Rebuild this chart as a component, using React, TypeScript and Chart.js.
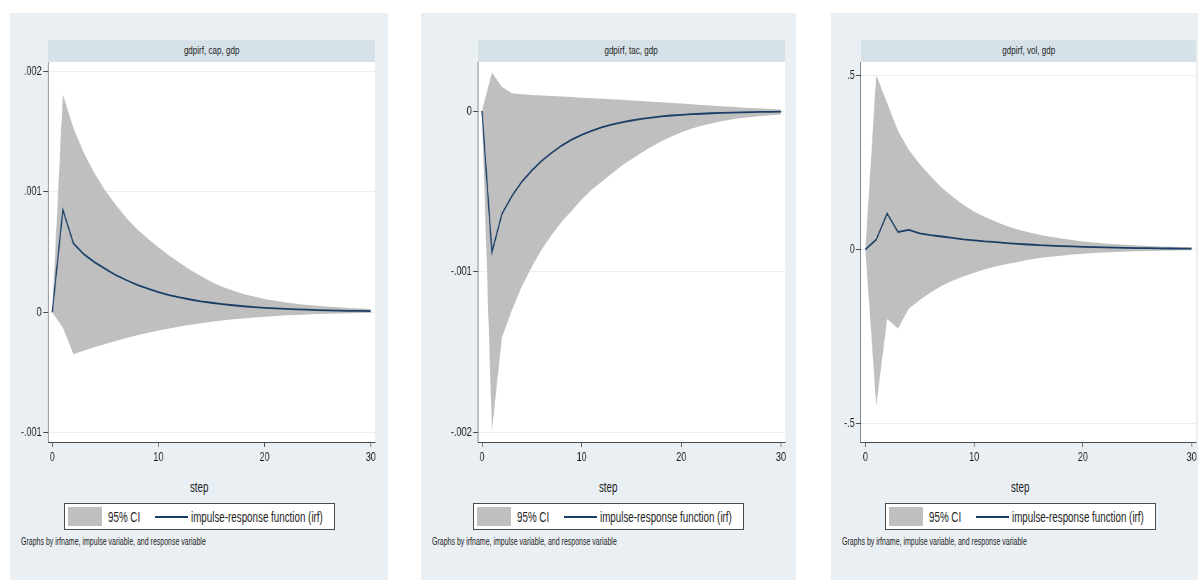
import React, { useEffect, useRef } from 'react';
import { Chart, registerables } from 'chart.js';

Chart.register(...registerables);

// ---------------- data ----------------
const steps = [0, 1, 2, 3, 4, 5, 6, 7, 8, 9, 10, 11, 12, 13, 14, 15, 16, 17, 18, 19, 20, 21, 22, 23, 24, 25, 26, 27, 28, 29, 30];

const capIrf = [0, 0.00085, 0.00057, 0.00048, 0.000414, 0.00036, 0.000307, 0.000265, 0.000227, 0.000195, 0.000166, 0.000142, 0.000122, 0.000105, 0.00009, 0.000078, 0.000067, 0.000057, 0.000049, 0.000042, 0.000036, 0.000031, 0.000027, 0.000023, 0.00002, 0.000017, 0.000015, 0.000013, 0.000011, 0.00001, 0.000009];
const capUpper = [0, 0.00181, 0.00153, 0.00132, 0.00115, 0.00101, 0.00089, 0.00078, 0.00069, 0.00061, 0.00054, 0.00047, 0.00041, 0.00035, 0.0003, 0.00025, 0.00021, 0.00018, 0.00015, 0.00013, 0.00011, 0.000095, 0.00008, 0.00007, 0.00006, 0.000052, 0.000045, 0.00004, 0.000035, 0.00003, 0.000027];
const capLower = [0, -0.00013, -0.00035, -0.00032, -0.00029, -0.000265, -0.00024, -0.000215, -0.000192, -0.000172, -0.000153, -0.000136, -0.00012, -0.000106, -0.000093, -0.000081, -0.00007, -0.00006, -0.000052, -0.000045, -0.000038, -0.000032, -0.000027, -0.000023, -0.000019, -0.000016, -0.000013, -0.000011, -0.000009, -0.000007, -0.000006];

const tacIrf = [0, -0.00088, -0.00064, -0.00053, -0.00044, -0.00037, -0.00031, -0.00026, -0.000215, -0.000178, -0.000148, -0.000123, -0.000102, -0.000085, -0.000071, -0.000059, -0.000049, -0.000041, -0.000034, -0.000028, -0.000024, -0.00002, -0.000017, -0.000014, -0.000012, -0.00001, -0.000008, -0.000007, -0.000006, -0.000005, -0.000004];
const tacUpper = [0, 0.00024, 0.00015, 0.00011, 0.000105, 0.0001, 0.000097, 0.000093, 0.00009, 0.000087, 0.000083, 0.00008, 0.000077, 0.000073, 0.00007, 0.000066, 0.000062, 0.000058, 0.000054, 0.00005, 0.000046, 0.000042, 0.000038, 0.000034, 0.00003, 0.000026, 0.000022, 0.000019, 0.000016, 0.000013, 0.00001];
const tacLower = [0, -0.00199, -0.00141, -0.00124, -0.00109, -0.00097, -0.00086, -0.00077, -0.00069, -0.00062, -0.00055, -0.00049, -0.00044, -0.00039, -0.00034, -0.0003, -0.00026, -0.000222, -0.000188, -0.000158, -0.000132, -0.00011, -0.000092, -0.000077, -0.000064, -0.000053, -0.000044, -0.000037, -0.000031, -0.000026, -0.000022];

const volIrf = [0, 0.028, 0.103, 0.05, 0.056, 0.046, 0.041, 0.037, 0.033, 0.029, 0.026, 0.023, 0.021, 0.018, 0.016, 0.014, 0.012, 0.011, 0.0095, 0.0085, 0.0075, 0.0066, 0.0058, 0.005, 0.0044, 0.0039, 0.0034, 0.003, 0.0026, 0.0023, 0.002];
const volUpper = [0, 0.5, 0.42, 0.34, 0.285, 0.245, 0.21, 0.178, 0.152, 0.128, 0.108, 0.093, 0.079, 0.067, 0.057, 0.049, 0.042, 0.036, 0.031, 0.027, 0.023, 0.02, 0.017, 0.015, 0.013, 0.011, 0.0095, 0.0085, 0.0075, 0.0065, 0.006];
const volLower = [0, -0.45, -0.2, -0.227, -0.17, -0.145, -0.124, -0.105, -0.09, -0.078, -0.067, -0.057, -0.049, -0.042, -0.036, -0.03, -0.025, -0.021, -0.018, -0.015, -0.0125, -0.0105, -0.0088, -0.0074, -0.0062, -0.0052, -0.0044, -0.0037, -0.0031, -0.0026, -0.0022];

const xTickValues = [0, 10, 20, 30];
const xTickLabels = ['0', '10', '20', '30'];
const capYTicks = [-0.001, 0, 0.001, 0.002];
const capYLabels = ['-.001', '0', '.001', '.002'];
const tacYTicks = [-0.002, -0.001, 0];
const tacYLabels = ['-.002', '-.001', '0'];
const volYTicks = [-0.5, 0, 0.5];
const volYLabels = ['-.5', '0', '.5'];

const panelTitles = ['gdpirf, cap, gdp', 'gdpirf, tac, gdp', 'gdpirf, vol, gdp'];
const xAxisTitle = 'step';
const legendCI = '95% CI';
const legendIrf = 'impulse-response function (irf)';
const noteText = 'Graphs by irfname, impulse variable, and response variable';

// ---------------- layout / style ----------------
const SQ = 0.7; // horizontal condensing of the reference typography
const FONT = "'Liberation Sans', Arial, Helvetica, sans-serif";
const PLOT_TOP = 62;
const PLOT_H = 380;
const AXIS_H = 30;
const OUTER_BG = '#e9eff2';
const STRIP_BG = '#d6e1e8';
const BAND = '#bfbfbf';
const LINE = '#1a3f66';
const AXIS = '#4a4a4a';
const TEXT = '#1e1e1e';

type PanelCfg = {
  left: number; width: number; plotLeft: number; plotRight: number;
  yMin: number; yMax: number; yTicks: number[]; yLabels: string[];
  irf: number[]; upper: number[]; lower: number[]; title: string;
};

const panels: PanelCfg[] = [
  { left: 10, width: 378, plotLeft: 48, plotRight: 375, yMin: -0.00108, yMax: 0.00208, yTicks: capYTicks, yLabels: capYLabels, irf: capIrf, upper: capUpper, lower: capLower, title: panelTitles[0] },
  { left: 421, width: 375, plotLeft: 478, plotRight: 785, yMin: -0.00206, yMax: 0.000305, yTicks: tacYTicks, yLabels: tacYLabels, irf: tacIrf, upper: tacUpper, lower: tacLower, title: panelTitles[1] },
  { left: 831, width: 378, plotLeft: 861, plotRight: 1196, yMin: -0.553, yMax: 0.538, yTicks: volYTicks, yLabels: volYLabels, irf: volIrf, upper: volUpper, lower: volLower, title: panelTitles[2] },
];

const plotBg = {
  id: 'plotBg',
  beforeDraw(chart: any) {
    const { ctx, chartArea } = chart;
    if (!chartArea) return;
    ctx.save();
    ctx.fillStyle = '#ffffff';
    ctx.fillRect(chartArea.left, chartArea.top, chartArea.right - chartArea.left, chartArea.bottom - chartArea.top);
    ctx.restore();
  },
};

function SqText({ text, size, origin = 'center' }: { text: string; size: number; origin?: string }) {
  return (
    <span style={{ display: 'inline-block', transform: `scaleX(${SQ})`, transformOrigin: origin, fontSize: size, fontFamily: FONT, whiteSpace: 'nowrap', lineHeight: 1, color: TEXT }}>
      {text}
    </span>
  );
}

function Panel({ p }: { p: PanelCfg }) {
  const ref = useRef<HTMLCanvasElement | null>(null);
  const cw = Math.round(p.width / SQ);
  const ch = PLOT_H + AXIS_H;

  useEffect(() => {
    const canvas = ref.current;
    if (!canvas) return;
    const yAxisW = (p.plotLeft - p.left) / SQ;
    const padR = (p.left + p.width - p.plotRight) / SQ;
    const toXY = (arr: number[]) => steps.map((s, i) => ({ x: s, y: arr[i] }));
    const chart = new Chart(canvas, {
      type: 'line',
      data: {
        datasets: [
          { label: 'irf', data: toXY(p.irf), borderColor: LINE, borderWidth: 1.8, pointRadius: 0, fill: false, tension: 0 },
          { label: 'upper', data: toXY(p.upper), borderColor: 'rgba(0,0,0,0)', borderWidth: 0, backgroundColor: BAND, pointRadius: 0, fill: '+1', tension: 0 },
          { label: 'lower', data: toXY(p.lower), borderColor: 'rgba(0,0,0,0)', borderWidth: 0, backgroundColor: BAND, pointRadius: 0, fill: false, tension: 0 },
        ],
      },
      options: {
        responsive: false,
        animation: false,
        devicePixelRatio: 1,
        layout: { padding: { left: 0, top: 0, bottom: 0, right: padR } },
        plugins: { legend: { display: false }, tooltip: { enabled: false } },
        scales: {
          x: {
            type: 'linear', min: -0.4, max: 30.4,
            afterFit: (s: any) => { s.height = AXIS_H; s.paddingLeft = 0; s.paddingRight = 0; s.paddingTop = 0; s.paddingBottom = 0; },
            afterBuildTicks: (s: any) => { s.ticks = xTickValues.map((v) => ({ value: v })); },
            ticks: {
              callback: (v: any) => { const i = xTickValues.indexOf(Number(v)); return i >= 0 ? xTickLabels[i] : ''; },
              font: { family: FONT, size: 13 }, color: TEXT, padding: 3, maxRotation: 0, autoSkip: false,
            },
            grid: { drawOnChartArea: false, drawTicks: true, tickLength: 5, tickColor: AXIS, lineWidth: 1 },
            border: { display: true, color: AXIS, width: 1 },
          },
          y: {
            type: 'linear', min: p.yMin, max: p.yMax,
            afterFit: (s: any) => { s.width = yAxisW; s.paddingLeft = 0; s.paddingRight = 0; s.paddingTop = 0; s.paddingBottom = 0; },
            afterBuildTicks: (s: any) => { s.ticks = p.yTicks.map((v) => ({ value: v })); },
            ticks: {
              callback: (v: any) => { const i = p.yTicks.indexOf(Number(v)); return i >= 0 ? p.yLabels[i] : ''; },
              font: { family: FONT, size: 13 }, color: TEXT, padding: 2, autoSkip: false,
            },
            grid: { drawOnChartArea: true, color: '#e6eff1', lineWidth: 1, drawTicks: true, tickLength: 7, tickColor: AXIS },
            border: { display: true, color: AXIS, width: 1 },
          },
        },
      },
      plugins: [plotBg],
    } as any);
    return () => chart.destroy();
  }, []);

  const legendW = 271;
  const legendLeft = p.left + (p.width - legendW) / 2;

  return (
    <>
      <div style={{ position: 'absolute', left: p.left, top: 13, width: p.width, height: 567, background: OUTER_BG }} />
      <div style={{ position: 'absolute', left: p.plotLeft, top: 40, width: p.plotRight - p.plotLeft, height: 22, background: STRIP_BG, display: 'flex', alignItems: 'center', justifyContent: 'center' }}>
        <SqText text={p.title} size={11.5} />
      </div>
      <canvas ref={ref} width={cw} height={ch} style={{ position: 'absolute', left: p.left, top: PLOT_TOP, width: p.width, height: ch }} />
      <div style={{ position: 'absolute', left: p.left, top: 478, width: p.width, height: 18, display: 'flex', alignItems: 'center', justifyContent: 'center' }}>
        <SqText text={xAxisTitle} size={14} />
      </div>
      <div style={{ position: 'absolute', left: legendLeft, top: 503, width: legendW, height: 27, boxSizing: 'border-box', border: `1px solid ${AXIS}`, background: '#ffffff' }}>
        <div style={{ position: 'absolute', left: 3, top: 3, width: 34, height: 19, background: BAND }} />
        <div style={{ position: 'absolute', left: 43, top: 5, height: 15, display: 'flex', alignItems: 'center' }}>
          <SqText text={legendCI} size={14} origin="left" />
        </div>
        <div style={{ position: 'absolute', left: 90, top: 12, width: 33, height: 1.6, background: LINE }} />
        <div style={{ position: 'absolute', left: 126, top: 5, height: 15, display: 'flex', alignItems: 'center' }}>
          <SqText text={legendIrf} size={14} origin="left" />
        </div>
      </div>
      <div style={{ position: 'absolute', left: p.left + 11, top: 536, height: 12, display: 'flex', alignItems: 'center' }}>
        <SqText text={noteText} size={10} origin="left" />
      </div>
    </>
  );
}

export default function App() {
  return (
    <div style={{ position: 'fixed', left: 0, top: 0, width: 1198, height: 586, overflow: 'hidden', background: '#ffffff' }}>
      {panels.map((p, i) => (
        <Panel key={i} p={p} />
      ))}
    </div>
  );
}
